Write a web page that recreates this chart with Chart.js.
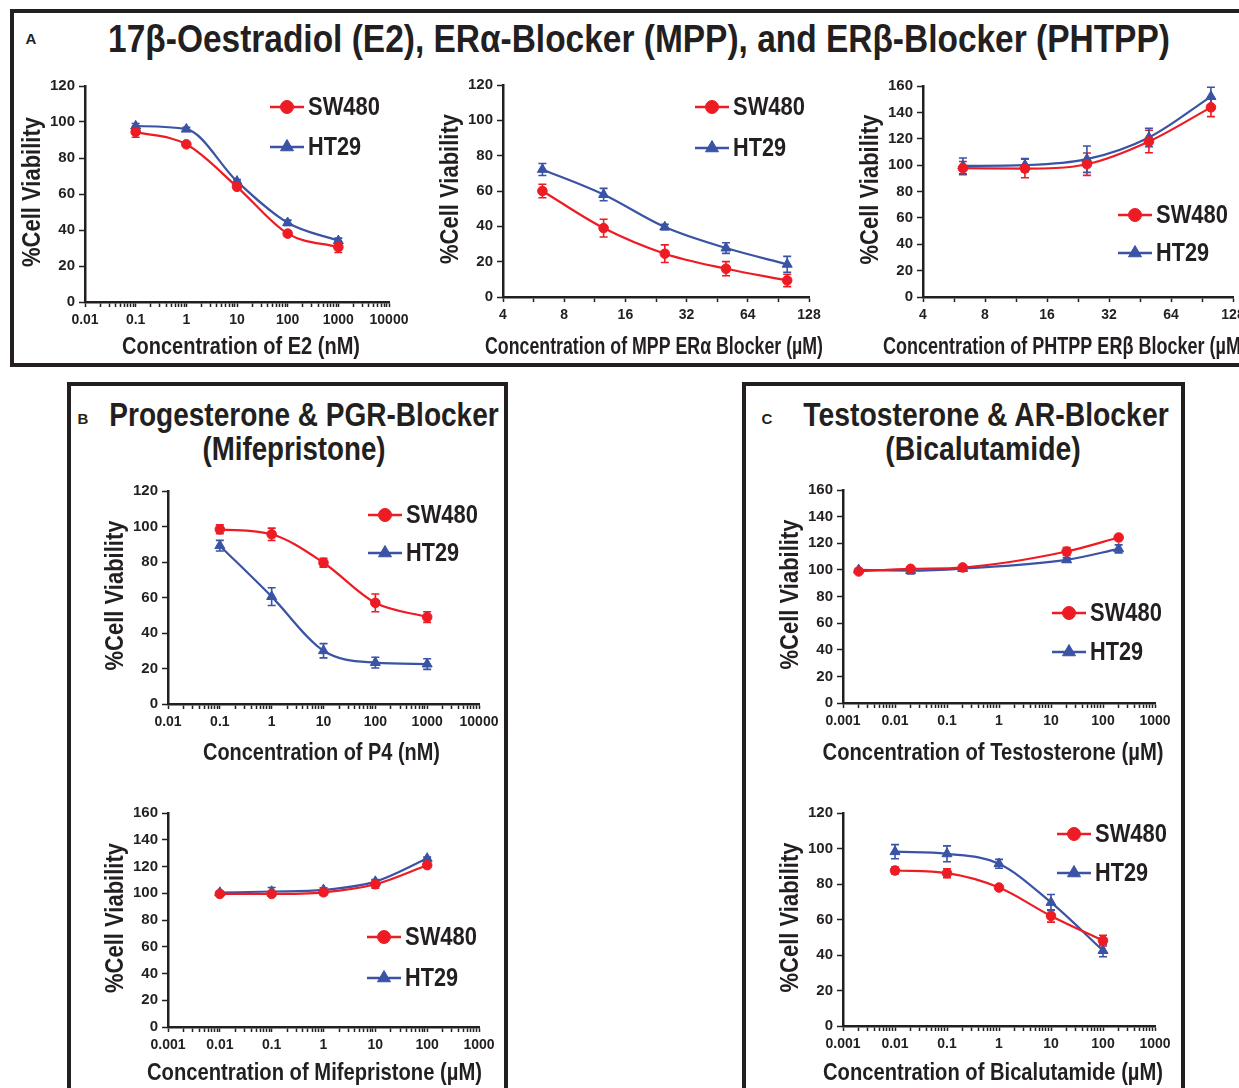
<!DOCTYPE html>
<html>
<head>
<meta charset="utf-8">
<script src="https://cdn.jsdelivr.net/npm/chart.js@4.4.1/dist/chart.umd.min.js"></script>
<style>
  body { margin: 0; width: 1239px; height: 1088px; overflow: hidden; background: #fff; position: relative;
         font-family: 'Liberation Sans', Arial, sans-serif; color: #231f20; }
  .box { position: absolute; border: 4px solid #231f20; box-sizing: border-box; }
  .tag { position: absolute; font-weight: bold; font-size: 15px; transform: translate(-50%, -50%); }
  .ttl { position: absolute; font-family: 'Liberation Sans', Arial, sans-serif;
         font-weight: bold; white-space: nowrap; line-height: 1; transform: translate(-50%, -50%); }
  canvas { position: absolute; }
</style>
</head>
<body>
<div class="box" style="left:10px; top:9px; width:1260px; height:358px;"></div>
<div class="box" style="left:67px; top:382px; width:441px; height:730px;"></div>
<div class="box" style="left:742px; top:382px; width:443px; height:730px;"></div>

<div class="tag" style="left:31px; top:38px;">A</div>
<div class="tag" style="left:83px; top:418px;">B</div>
<div class="tag" style="left:767px; top:418px;">C</div>

<div class="ttl" data-w="1062" style="left:639px; top:39px; font-size:38px;">17β-Oestradiol (E2), ERα-Blocker (MPP), and ERβ-Blocker (PHTPP)</div>
<div class="ttl" data-w="389" style="left:304px; top:414px; font-size:33px;">Progesterone &amp; PGR-Blocker</div>
<div class="ttl" data-w="183" style="left:294px; top:448px; font-size:33px;">(Mifepristone)</div>
<div class="ttl" data-w="365" style="left:986px; top:414px; font-size:33px;">Testosterone &amp; AR-Blocker</div>
<div class="ttl" data-w="195" style="left:983px; top:448px; font-size:33px;">(Bicalutamide)</div>

<script>
// Colours and fonts
const INK = '#231f20';
const RED = '#ed1c24';
const BLUE = '#3a53a4';
const PLAIN = "'Liberation Sans', Arial, sans-serif";

const seriesNames = ['SW480', 'HT29'];

// Tick labels
const xTicksNm = [0.01, 0.1, 1, 10, 100, 1000, 10000];
const xLabelsNm = ['0.01', '0.1', '1', '10', '100', '1000', '10000'];
const xTicksUm = [0.001, 0.01, 0.1, 1, 10, 100, 1000];
const xLabelsUm = ['0.001', '0.01', '0.1', '1', '10', '100', '1000'];
const xTicksOct = [4, 8, 16, 32, 64, 128];
const xLabelsOct = ['4', '8', '16', '32', '64', '128'];

// A1 - E2 (nM)
const e2Conc = [0.1, 1, 10, 100, 1000];
const e2Sw480 = [94.5, 87.6, 64, 38, 30.5];
const e2Sw480Err = [3, 1, 1, 1.5, 3];
const e2Ht29 = [97.7, 96, 67, 44, 34];
const e2Ht29Err = [1.5, 1, 1, 1.5, 1.5];

// A2 - MPP (uM)
const mppConc = [6.25, 12.5, 25, 50, 100];
const mppSw480 = [60, 39, 24.5, 16, 9.4];
const mppSw480Err = [3.8, 5, 5, 4, 3.5];
const mppHt29 = [72.2, 58, 39.6, 27.7, 18.5];
const mppHt29Err = [3.4, 3.5, 1.5, 3, 4.5];

// A3 - PHTPP (uM)
const phtppConc = [6.25, 12.5, 25, 50, 100];
const phtppSw480 = [97.7, 97.4, 100.7, 117.9, 143.8];
const phtppSw480Err = [5, 7, 8.5, 8.5, 7];
const phtppHt29 = [99.4, 100, 104.5, 121, 152];
const phtppHt29Err = [6, 5, 10, 7, 7];

// B1 - P4 (nM)
const p4Conc = [0.1, 1, 10, 100, 1000];
const p4Sw480 = [98.4, 95.6, 79.6, 57, 49];
const p4Sw480Err = [2.5, 3.5, 2.5, 5, 3];
const p4Ht29 = [89.2, 60.5, 30, 23.3, 22.5];
const p4Ht29Err = [3, 5, 4, 3, 3];

// B2 - Mifepristone (uM)
const mifConc = [0.01, 0.1, 1, 10, 100];
const mifSw480 = [99.5, 99.5, 100.7, 106.7, 121];
const mifSw480Err = [1, 1, 2, 3, 1];
const mifHt29 = [100.5, 101.3, 102.5, 108.7, 126];
const mifHt29Err = [1, 3, 1.5, 1.5, 1];

// C1 - Testosterone (uM)
const testoConc = [0.002, 0.02, 0.2, 20, 200];
const testoSw480 = [98.8, 100.8, 101.8, 113.8, 124.3];
const testoSw480Err = [1, 1, 1, 3, 1];
const testoHt29 = [100, 99.5, 101, 107.5, 115.8];
const testoHt29Err = [1, 2.5, 1, 1.5, 3];

// C2 - Bicalutamide (uM)
const bicaConc = [0.01, 0.1, 1, 10, 100];
const bicaSw480 = [87.6, 86.1, 78, 62, 48.1];
const bicaSw480Err = [2, 2.5, 1, 3.5, 3];
const bicaHt29 = [98.2, 97, 91.4, 69.6, 42.5];
const bicaHt29Err = [4, 4.5, 2.5, 4.5, 3.5];

// Minor ticks: 2..9 inside each decade, or one mid tick inside each octave
function withMinors(majors) {
  const out = [];
  const ratio = majors[1] / majors[0];
  for (let i = 0; i < majors.length; i++) {
    out.push(majors[i]);
    if (i === majors.length - 1) break;
    if (ratio === 10) {
      for (let k = 2; k <= 9; k++) out.push(majors[i] * k);
    } else {
      out.push(majors[i] * Math.sqrt(ratio));
    }
  }
  return out;
}

// Error bars drawn under the points
const errorBars = {
  id: 'errorBars',
  beforeDatasetsDraw(chart) {
    const ctx = chart.ctx;
    const yScale = chart.scales.y;
    chart.data.datasets.forEach((ds, i) => {
      const meta = chart.getDatasetMeta(i);
      ctx.save();
      ctx.strokeStyle = ds.borderColor;
      ctx.lineWidth = 1.6;
      meta.data.forEach((pt, j) => {
        const e = ds.errors[j];
        if (!e) return;
        const v = ds.data[j].y;
        const y1 = yScale.getPixelForValue(v + e);
        const y2 = yScale.getPixelForValue(v - e);
        ctx.beginPath();
        ctx.moveTo(pt.x, y1); ctx.lineTo(pt.x, y2);
        ctx.moveTo(pt.x - 4, y1); ctx.lineTo(pt.x + 4, y1);
        ctx.moveTo(pt.x - 4, y2); ctx.lineTo(pt.x + 4, y2);
        ctx.stroke();
      });
      ctx.restore();
    });
  }
};

// Legend inside the plot area
const cellLegend = {
  id: 'cellLegend',
  afterDraw(chart, args, opts) {
    const { ctx, chartArea } = chart;
    chart.data.datasets.forEach((ds, i) => {
      const x = chartArea.left + opts.x;
      const y = chartArea.top + opts.y + i * opts.gap;
      ctx.save();
      ctx.strokeStyle = ds.borderColor;
      ctx.fillStyle = ds.borderColor;
      ctx.lineWidth = 2.5;
      ctx.beginPath();
      ctx.moveTo(x, y); ctx.lineTo(x + 34, y);
      ctx.stroke();
      ctx.lineWidth = 1;
      Chart.helpers.drawPoint(ctx, { pointStyle: ds.pointStyle, radius: i === 0 ? 6.5 : 7.5, borderWidth: 1, rotation: 0 }, x + 17, y);
      ctx.fillStyle = INK;
      ctx.font = 'bold 26px ' + PLAIN;
      ctx.textBaseline = 'middle';
      ctx.fillText(ds.label, x + 38, y + 1, opts.widths[i]);
      ctx.restore();
    });
  }
};

// Axis titles, squeezed to the condensed width of the figure's lettering
const axisTitles = {
  id: 'axisTitles',
  afterDraw(chart, args, o) {
    const { ctx, chartArea: a } = chart;
    ctx.save();
    ctx.fillStyle = INK;
    ctx.textAlign = 'center';
    ctx.textBaseline = 'middle';
    ctx.font = 'bold 24px ' + PLAIN;
    ctx.fillText(o.xText, (a.left + a.right) / 2 + o.xDx, a.bottom + o.xDy, o.xWidth);
    ctx.translate(a.left - 52, (a.top + a.bottom) / 2 - 2);
    ctx.rotate(-Math.PI / 2);
    ctx.font = 'bold 25px ' + PLAIN;
    ctx.fillText(o.yText, 0, 0, 150);
    ctx.restore();
  }
};

function makeSet(label, conc, vals, errs, color, style) {
  return {
    label: label,
    data: conc.map((c, i) => ({ x: c, y: vals[i] })),
    errors: errs,
    borderColor: color,
    backgroundColor: color,
    borderWidth: 2.2,
    pointStyle: style,
    pointRadius: style === 'circle' ? 4.8 : 5.8,
    pointBorderWidth: 1,
    pointBackgroundColor: color,
    cubicInterpolationMode: 'monotone',
    fill: false
  };
}

function drawPanel(spec) {
  const Y_W = 72, PAD_T = 14, PAD_R = 30, X_H = 64;
  const [l, t, r, b] = spec.area;
  const canvas = document.createElement('canvas');
  canvas.width = r - l + Y_W + PAD_R;
  canvas.height = b - t + PAD_T + X_H;
  canvas.style.left = (l - Y_W) + 'px';
  canvas.style.top = (t - PAD_T) + 'px';
  document.body.appendChild(canvas);

  const ticks = withMinors(spec.xTicks);

  return new Chart(canvas.getContext('2d'), {
    type: 'line',
    data: {
      datasets: [
        makeSet(seriesNames[0], spec.conc, spec.sw, spec.swErr, RED, 'circle'),
        makeSet(seriesNames[1], spec.conc, spec.ht, spec.htErr, BLUE, 'triangle')
      ]
    },
    options: {
      responsive: false,
      animation: false,
      devicePixelRatio: 1,
      layout: { padding: { left: 0, top: PAD_T, right: PAD_R, bottom: 0 } },
      plugins: {
        legend: { display: false },
        tooltip: { enabled: false },
        cellLegend: spec.legend,
        axisTitles: spec.titles
      },
      scales: {
        x: {
          type: 'logarithmic',
          min: spec.xTicks[0],
          max: spec.xTicks[spec.xTicks.length - 1],
          afterBuildTicks: (axis) => { axis.ticks = ticks.map(v => ({ value: v })); },
          afterFit: (s) => { s.height = X_H; },
          grid: { drawOnChartArea: false, tickLength: 5, tickWidth: 1.5, tickColor: INK },
          border: { color: INK, width: 2.5 },
          ticks: {
            autoSkip: false, maxRotation: 0, padding: 5, color: INK,
            font: { family: PLAIN, size: 14, weight: 'bold' },
            callback: (v) => {
              const idx = spec.xTicks.findIndex(m => Math.abs(v / m - 1) < 1e-6);
              return idx >= 0 ? spec.xLabels[idx] : '';
            }
          }
        },
        y: {
          min: 0,
          max: spec.yMax,
          afterFit: (s) => { s.width = Y_W; },
          grid: { drawOnChartArea: false, tickLength: 6, tickWidth: 1.5, tickColor: INK },
          border: { color: INK, width: 2.5 },
          ticks: { stepSize: 20, padding: 4, color: INK, font: { family: PLAIN, size: 15, weight: 'bold' } }
        }
      }
    },
    plugins: [errorBars, cellLegend, axisTitles]
  });
}

const LW = [72, 53];
const Y_TITLE = '%Cell Viability';

drawPanel({ area: [85, 86, 389, 302], yMax: 120, xTicks: xTicksNm, xLabels: xLabelsNm,
  conc: e2Conc, sw: e2Sw480, swErr: e2Sw480Err, ht: e2Ht29, htErr: e2Ht29Err,
  titles: { xText: 'Concentration of E2 (nM)', xWidth: 238, xDx: 4, xDy: 45, yText: Y_TITLE },
  legend: { x: 185, y: 21, gap: 40, widths: LW } });

drawPanel({ area: [503, 85, 809, 297], yMax: 120, xTicks: xTicksOct, xLabels: xLabelsOct,
  conc: mppConc, sw: mppSw480, swErr: mppSw480Err, ht: mppHt29, htErr: mppHt29Err,
  titles: { xText: 'Concentration of MPP ERα Blocker (µM)', xWidth: 338, xDx: -2, xDy: 50, yText: Y_TITLE },
  legend: { x: 192, y: 22, gap: 41, widths: LW } });

drawPanel({ area: [923, 86, 1233, 297], yMax: 160, xTicks: xTicksOct, xLabels: xLabelsOct,
  conc: phtppConc, sw: phtppSw480, swErr: phtppSw480Err, ht: phtppHt29, htErr: phtppHt29Err,
  titles: { xText: 'Concentration of PHTPP ERβ Blocker (µM)', xWidth: 364, xDx: -13, xDy: 50, yText: Y_TITLE },
  legend: { x: 195, y: 129, gap: 38, widths: LW } });

drawPanel({ area: [168, 491, 479, 704], yMax: 120, xTicks: xTicksNm, xLabels: xLabelsNm,
  conc: p4Conc, sw: p4Sw480, swErr: p4Sw480Err, ht: p4Ht29, htErr: p4Ht29Err,
  titles: { xText: 'Concentration of P4 (nM)', xWidth: 237, xDx: -2, xDy: 49, yText: Y_TITLE },
  legend: { x: 200, y: 24, gap: 38, widths: LW } });

drawPanel({ area: [168, 813, 479, 1027], yMax: 160, xTicks: xTicksUm, xLabels: xLabelsUm,
  conc: mifConc, sw: mifSw480, swErr: mifSw480Err, ht: mifHt29, htErr: mifHt29Err,
  titles: { xText: 'Concentration of Mifepristone (µM)', xWidth: 335, xDx: -9, xDy: 46, yText: Y_TITLE },
  legend: { x: 199, y: 124, gap: 41, widths: LW } });

drawPanel({ area: [843, 490, 1155, 703], yMax: 160, xTicks: xTicksUm, xLabels: xLabelsUm,
  conc: testoConc, sw: testoSw480, swErr: testoSw480Err, ht: testoHt29, htErr: testoHt29Err,
  titles: { xText: 'Concentration of Testosterone (µM)', xWidth: 341, xDx: -6, xDy: 50, yText: Y_TITLE },
  legend: { x: 209, y: 123, gap: 39, widths: LW } });

drawPanel({ area: [843, 813, 1155, 1026], yMax: 120, xTicks: xTicksUm, xLabels: xLabelsUm,
  conc: bicaConc, sw: bicaSw480, swErr: bicaSw480Err, ht: bicaHt29, htErr: bicaHt29Err,
  titles: { xText: 'Concentration of Bicalutamide (µM)', xWidth: 340, xDx: -6, xDy: 47, yText: Y_TITLE },
  legend: { x: 214, y: 21, gap: 39, widths: LW } });

// Squeeze the panel titles to the width they have in the figure
document.querySelectorAll('.ttl').forEach(el => {
  const k = Number(el.dataset.w) / el.offsetWidth;
  el.style.transform = 'translate(-50%, -50%) scaleX(' + k + ')';
});
</script>
</body>
</html>
